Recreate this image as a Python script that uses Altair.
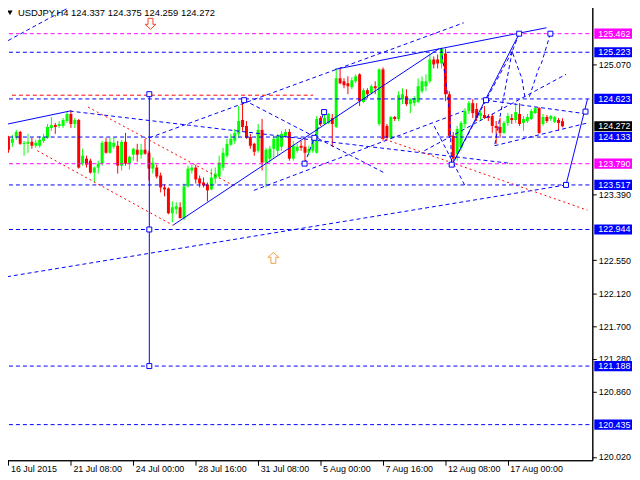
import altair as alt
import pandas as pd

# ---------------- data (bar index, price) ----------------
OPEN = [
    124.123, 124.059, 124.123, 124.199, 124.046, 124.046, 124.072, 124.021, 124.021, 124.084,
    124.123, 124.250, 124.288, 124.276, 124.276, 124.339, 124.429, 124.301, 124.352, 123.791,
    123.855, 123.829, 123.676, 123.740, 123.791, 124.072, 123.931, 124.008, 124.021, 123.765,
    124.072, 123.791, 123.906, 123.970, 123.906, 123.970, 123.931, 123.727, 123.740, 123.638,
    123.485, 123.472, 123.153, 123.204, 123.230, 123.089, 123.498, 123.702, 123.740, 123.600,
    123.549, 123.523, 123.459, 123.600, 123.625, 123.740, 123.893, 124.033, 124.084, 124.174,
    124.352, 124.276, 124.135, 124.046, 123.957, 124.225, 123.804, 123.855, 123.982, 123.957,
    124.008, 124.148, 124.199, 123.855, 123.957, 124.021, 124.008, 123.931, 123.957, 123.931,
    124.378, 124.301, 124.314, 124.378, 124.263, 124.888, 124.850, 124.824, 124.773, 124.850,
    124.939, 124.582, 124.735, 124.697, 124.786, 124.301, 125.003, 124.276, 124.123, 124.390,
    124.365, 124.620, 124.658, 124.556, 124.569, 124.582, 124.722, 124.786, 124.850, 125.130,
    125.130, 125.079, 125.207, 124.684, 124.148, 123.919, 123.995, 124.301, 124.467, 124.569,
    124.493, 124.403, 124.416, 124.403, 124.403, 124.276, 124.263, 124.186, 124.314, 124.378,
    124.352, 124.429, 124.314, 124.339, 124.365, 124.441, 124.505, 124.301, 124.390, 124.365,
    124.327, 124.352, 124.337,
]
HIGH = [
    124.148, 124.161, 124.225, 124.212, 124.084, 124.174, 124.123, 124.097, 124.148, 124.174,
    124.301, 124.390, 124.314, 124.339, 124.378, 124.454, 124.480, 124.378, 124.365, 123.982,
    123.893, 123.855, 123.753, 123.829, 124.084, 124.123, 124.123, 124.123, 124.084, 124.097,
    124.186, 123.893, 123.995, 124.046, 124.046, 124.110, 123.957, 123.868, 123.778, 123.676,
    123.523, 123.485, 123.306, 123.294, 123.294, 123.536, 123.765, 123.778, 123.778, 123.638,
    123.612, 123.549, 123.727, 123.740, 123.893, 123.995, 124.110, 124.174, 124.237, 124.531,
    124.569, 124.339, 124.174, 124.059, 124.301, 124.365, 123.995, 124.021, 124.148, 124.174,
    124.212, 124.237, 124.237, 124.084, 124.046, 124.084, 124.123, 124.021, 124.123, 124.403,
    124.403, 124.429, 124.441, 124.429, 125.015, 125.015, 124.888, 124.913, 124.901, 124.939,
    124.952, 124.760, 124.760, 124.811, 124.850, 125.015, 125.028, 124.301, 124.403, 124.403,
    124.722, 124.760, 124.748, 124.633, 124.658, 124.888, 124.913, 124.939, 125.207, 125.169,
    125.194, 125.283, 125.271, 124.722, 124.199, 124.276, 124.339, 124.505, 124.595, 124.620,
    124.569, 124.467, 124.531, 124.429, 124.429, 124.339, 124.378, 124.339, 124.441, 124.429,
    124.569, 124.569, 124.403, 124.429, 124.493, 124.518, 124.518, 124.429, 124.416, 124.416,
    124.403, 124.378, 124.375,
]
LOW = [
    123.931, 124.008, 124.097, 124.033, 123.893, 123.931, 123.982, 123.995, 123.995, 124.059,
    124.110, 124.212, 124.174, 124.250, 124.250, 124.314, 124.250, 124.250, 123.727, 123.765,
    123.740, 123.663, 123.549, 123.663, 123.765, 123.919, 123.919, 123.982, 123.663, 123.702,
    123.765, 123.714, 123.829, 123.816, 123.855, 123.906, 123.574, 123.663, 123.600, 123.421,
    123.370, 123.140, 123.038, 123.140, 123.089, 123.064, 123.485, 123.663, 123.536, 123.485,
    123.485, 123.306, 123.447, 123.536, 123.600, 123.702, 123.868, 124.021, 124.046, 124.123,
    124.212, 124.110, 123.982, 123.893, 123.931, 123.702, 123.485, 123.804, 123.868, 123.893,
    123.957, 124.123, 123.829, 123.829, 123.931, 123.957, 123.791, 123.893, 123.931, 123.919,
    124.276, 124.288, 124.301, 124.008, 124.250, 124.811, 124.760, 124.684, 124.748, 124.824,
    124.531, 124.569, 124.633, 124.684, 124.684, 124.276, 124.084, 124.110, 124.110, 124.339,
    124.339, 124.556, 124.531, 124.441, 124.531, 124.569, 124.697, 124.722, 124.824, 125.015,
    125.015, 125.015, 124.595, 124.123, 123.778, 123.829, 123.957, 124.250, 124.429, 124.378,
    124.339, 124.339, 124.365, 124.339, 124.186, 124.046, 124.123, 124.174, 124.276, 124.301,
    124.314, 124.276, 124.212, 124.314, 124.352, 124.429, 124.174, 124.276, 124.314, 124.339,
    124.314, 124.212, 124.259,
]
CLOSE = [
    123.970, 124.110, 124.199, 124.046, 124.059, 124.072, 124.021, 124.059, 124.097, 124.135,
    124.263, 124.288, 124.263, 124.301, 124.352, 124.429, 124.301, 124.352, 123.740, 123.893,
    123.778, 123.676, 123.740, 123.791, 124.059, 123.931, 124.072, 124.059, 123.765, 124.072,
    123.791, 123.880, 123.982, 123.906, 123.970, 123.919, 123.727, 123.804, 123.625, 123.485,
    123.459, 123.153, 123.230, 123.243, 123.089, 123.498, 123.727, 123.740, 123.587, 123.536,
    123.510, 123.447, 123.612, 123.663, 123.804, 123.931, 124.046, 124.110, 124.186, 124.339,
    124.263, 124.123, 124.021, 123.944, 124.225, 123.804, 123.970, 123.982, 124.110, 124.148,
    124.174, 124.199, 123.855, 124.021, 124.008, 123.995, 123.931, 123.982, 124.084, 124.365,
    124.301, 124.378, 124.429, 124.301, 124.888, 124.824, 124.799, 124.786, 124.862, 124.913,
    124.595, 124.735, 124.684, 124.786, 124.760, 125.003, 124.110, 124.123, 124.390, 124.365,
    124.671, 124.684, 124.556, 124.620, 124.633, 124.786, 124.850, 124.850, 125.130, 125.066,
    125.079, 125.271, 124.684, 124.148, 123.855, 124.237, 124.314, 124.467, 124.569, 124.441,
    124.378, 124.441, 124.378, 124.378, 124.276, 124.250, 124.186, 124.314, 124.403, 124.352,
    124.454, 124.301, 124.365, 124.390, 124.467, 124.505, 124.186, 124.390, 124.339, 124.403,
    124.390, 124.314, 124.272,
]

TITLE = "USDJPY,H4  124.337 124.375 124.259 124.272"
TIME_TICKS = [0, 16, 32, 48, 64, 80, 96, 112, 128]
TIME_LABELS = ["16 Jul 2015", "21 Jul 08:00", "24 Jul 00:00", "28 Jul 16:00", "31 Jul 08:00",
               "5 Aug 00:00", "7 Aug 16:00", "12 Aug 08:00", "17 Aug 00:00"]
PRICE_TICKS = [125.070, 123.390, 122.550, 122.120, 121.700, 121.280, 120.860, 120.020]

BLUE_LEVELS = [125.223, 124.623, 124.133, 123.517, 122.944, 121.188, 120.435]
MAGENTA_LEVELS = [125.462, 123.790]
BID_PRICE = [124.272]

BLUE_SOLID = [
    [(-0.1, 124.301), (15.7, 124.467)],
    [(42.2, 123.000), (110.4, 125.271)],
    [(83.7, 125.003), (137.9, 125.538)],
    [(113.6, 123.765), (130.9, 125.462)],
    [(142.9, 123.517), (148.4, 124.620)],
]
BLUE_DASHED = [
    [(-0.1, 125.373), (17.2, 125.845)],
    [(-0.375, 122.337), (142.9, 123.517)],
    [(36.1, 124.123), (116.7, 125.602)],
    [(15.7, 124.467), (129.2, 123.791)],
    [(60.4, 124.607), (96.7, 123.663)],
    [(62.9, 123.447), (116.7, 124.467)],
    [(106.6, 123.957), (142.9, 124.939)],
    [(122.4, 124.607), (148.4, 124.429)],
    [(124.6, 124.021), (148.4, 124.314)],
    [(75.9, 123.791), (78.4, 124.123), (80.9, 124.454)],
    [(130.9, 125.462), (129.1, 125.232), (131.1, 124.952), (131.6, 124.888), (132.4, 124.633)],
    [(138.9, 125.462), (136.6, 125.079), (135.9, 125.015), (133.4, 124.633)],
    [(129.1, 125.232), (124.6, 124.021)],
    [(110.9, 125.271), (112.1, 124.850), (113.1, 124.441), (113.6, 123.765)],
    [(113.6, 123.765), (122.4, 124.607), (129.1, 125.232)],
    [(109.1, 124.276), (117.1, 123.498)],
]
RED_DOTTED = [
    [(7.4, 123.957), (42.1, 123.000)],
    [(20.4, 124.518), (58.1, 123.498)],
    [(95.4, 124.123), (148.4, 123.192)],
]
RED_LEVEL = [(0.9, 78.1, 124.671)]
VERTICAL = [(36.1, 121.188, 124.684)]
MARK_BARS = [36.1, 36.1, 36.1, 60.4, 75.9, 78.4, 80.9, 113.6, 122.4, 130.9, 138.9, 142.9, 147.9]
MARK_PRICES = [124.684, 122.944, 121.188, 124.607, 123.791, 124.123, 124.454, 123.778,
               124.607, 125.462, 125.462, 123.517, 124.460]
ARROW_DOWN = [(36.4, 125.589)]
ARROW_UP = [(67.9, 122.579)]

# ---------------- frames ----------------
n = len(OPEN)
candles = pd.DataFrame({"i": list(range(n)), "o": OPEN, "h": HIGH, "l": LOW, "c": CLOSE})
candles["up"] = [c >= o for o, c in zip(OPEN, CLOSE)]
up_df = candles[candles["up"]]
dn_df = candles[~candles["up"]]


def poly_frame(groups):
    rows = []
    for gid, poly in enumerate(groups):
        for k, (bx, py) in enumerate(poly):
            rows.append({"id": gid, "k": k, "i": bx, "p": py})
    return pd.DataFrame(rows)


# ---------------- scales / axes ----------------
W, H = 595, 459
FONT = "Liberation Sans"
BLUE, RED, GREEN, MAGENTA = "#0000FF", "#FF0000", "#00FF00", "#FF00FF"
xs = alt.Scale(domain=[-0.375, 148.375], nice=False, zero=False)
ys = alt.Scale(domain=[119.977, 125.832], nice=False, zero=False)

label_expr = "[" + ",".join("'" + t + "'" for t in TIME_LABELS) + "][round(datum.value / 16)]"
x_axis = alt.Axis(values=TIME_TICKS, labelExpr=label_expr, orient="bottom", labelAlign="left",
                  labelBaseline="alphabetic", labelPadding=6, tickSize=5, labelOffset=2,
                  labelFont=FONT, labelFontSize=9, labelColor="black", tickColor="black",
                  domainColor="black", grid=False, title=None, labelFlush=False,
                  labelOverlap=False, labelBound=False)
y_axis = alt.Axis(values=PRICE_TICKS, format=".3f", orient="right", tickSize=4, labelPadding=2,
                  labelFont=FONT, labelFontSize=9, labelColor="black", tickColor="black",
                  domainColor="black", grid=False, title=None, labelFlush=False,
                  labelOverlap=False, labelBound=False)


def X(field):
    return alt.X(field, type="quantitative", scale=xs, axis=x_axis)


def Y(field):
    return alt.Y(field, type="quantitative", scale=ys, axis=y_axis)


layers = []
for df, col in ((up_df, GREEN), (dn_df, RED)):
    layers.append(alt.Chart(df).mark_rule(strokeWidth=1, color=col).encode(
        x=X("i"), y=Y("l"), y2="h"))
    layers.append(alt.Chart(df).mark_bar(size=3, color=col).encode(
        x=X("i"), y=Y("o"), y2="c"))

layers.append(alt.Chart(pd.DataFrame(RED_LEVEL, columns=["i0", "i1", "p"])).mark_rule(
    strokeDash=[4, 3], strokeWidth=1, color=RED).encode(x=X("i0"), x2="i1", y=Y("p")))
layers.append(alt.Chart(pd.DataFrame(VERTICAL, columns=["i", "p0", "p1"])).mark_rule(
    strokeWidth=1, color=BLUE).encode(x=X("i"), y=Y("p0"), y2="p1"))

for groups, col, dash in ((BLUE_SOLID, BLUE, None), (BLUE_DASHED, BLUE, [4, 3]),
                          (RED_DOTTED, RED, [2, 3])):
    kw = dict(strokeWidth=1, clip=True, color=col)
    if dash:
        kw["strokeDash"] = dash
    layers.append(alt.Chart(poly_frame(groups)).mark_line(**kw).encode(
        x=X("i"), y=Y("p"), detail="id:N", order="k:Q"))

# horizontal levels, full plot width
for vals, col in ((BLUE_LEVELS, BLUE), (MAGENTA_LEVELS, MAGENTA)):
    layers.append(alt.Chart(pd.DataFrame({"p": vals})).mark_rule(
        strokeDash=[4, 3], strokeWidth=1, stroke=col, color=col).encode(
        x=alt.value(0), x2=alt.value(W), y=Y("p")))

layers.append(alt.Chart(pd.DataFrame({"i": MARK_BARS, "p": MARK_PRICES})).mark_point(
    shape="square", filled=True, fill="white", stroke=BLUE, strokeWidth=1, size=25,
    opacity=1).encode(x=X("i"), y=Y("p")))

DOWN = "M-0.45,-1L0.45,-1L0.45,0.1L1,0.1L0,1L-1,0.1L-0.45,0.1Z"
UP = "M-0.45,1L0.45,1L0.45,-0.1L1,-0.1L0,-1L-1,-0.1L-0.45,-0.1Z"
for pts, shape, col in ((ARROW_DOWN, DOWN, "#F04828"), (ARROW_UP, UP, "#F0A040")):
    layers.append(alt.Chart(pd.DataFrame(pts, columns=["i", "p"])).mark_point(
        shape=shape, filled=True, fill="white", stroke=col, strokeWidth=1, size=121,
        opacity=1).encode(x=X("i"), y=Y("p")))

BOX = "M-1,-0.25L1,-0.25L1,0.25L-1,0.25Z"
for vals, col in ((BLUE_LEVELS, BLUE), (MAGENTA_LEVELS, MAGENTA), (BID_PRICE, "#000000")):
    tdf = pd.DataFrame({"p": vals, "txt": [f"{v:.3f}" for v in vals]})
    layers.append(alt.Chart(tdf).mark_point(shape=BOX, filled=True, size=1681, opacity=1,
                                            strokeWidth=0, color=col).encode(
        x=alt.value(W + 22.5), y=Y("p")))
    layers.append(alt.Chart(tdf).mark_text(align="left", baseline="middle", font=FONT,
                                           fontSize=9, color="white").encode(
        x=alt.value(W + 6), y=Y("p"), text="txt:N"))

title_df = pd.DataFrame({"t": [TITLE]})
layers.append(alt.Chart(title_df).mark_text(align="left", baseline="alphabetic", font=FONT,
                                            fontSize=9.5, color="black").encode(
    x=alt.value(16), y=alt.value(11), text="t:N"))
layers.append(alt.Chart(title_df).mark_point(shape="triangle-down", filled=True, color="black",
                                             size=28, opacity=1).encode(
    x=alt.value(8), y=alt.value(8)))

chart = alt.layer(*layers).properties(
    width=W, height=H,
    autosize=alt.AutoSizeParams(type="none"),
    padding={"left": -6, "top": -5, "right": 40, "bottom": 14},
    background="white",
).configure_view(stroke="black", strokeWidth=1)

chart.save("out.html", embed_options={"renderer": "svg", "actions": False})
